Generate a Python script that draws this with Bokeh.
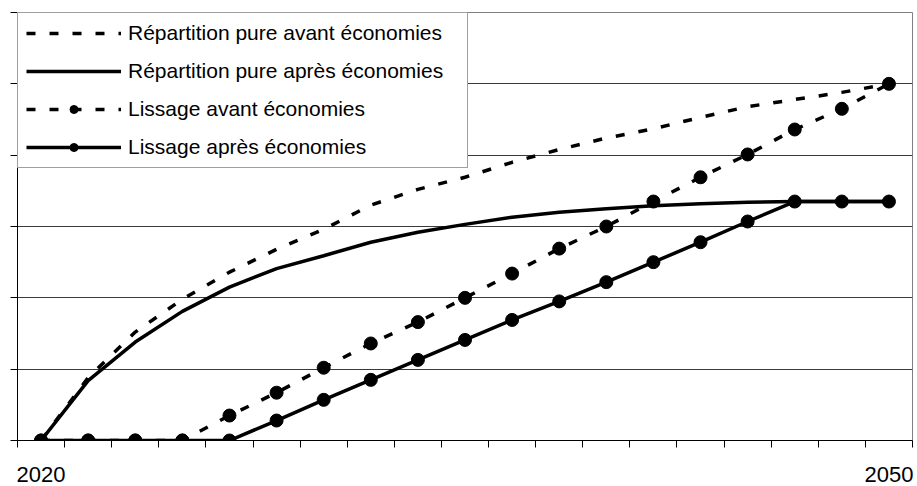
from bokeh.plotting import figure
from bokeh.models import Range1d, FixedTicker, Legend, LegendItem
from bokeh.embed import file_html
from bokeh.resources import INLINE

# Periods along the horizontal axis (19 steps from 2020 to 2050)
periods = list(range(19))
period_labels = ["2020"] + [""] * 17 + ["2050"]

# Series values
repartition_avant = [0.0, 0.88, 1.52, 1.98, 2.36, 2.68, 2.96, 3.30, 3.52, 3.69,
                     3.90, 4.08, 4.24, 4.37, 4.53, 4.68, 4.78, 4.88, 5.0]
repartition_apres = [0.0, 0.84, 1.38, 1.81, 2.15, 2.41, 2.59, 2.78, 2.92, 3.03,
                     3.13, 3.20, 3.25, 3.29, 3.32, 3.34, 3.35, 3.35, 3.35]
lissage_avant = [0.0, 0.0, 0.0, 0.0, 0.35, 0.67, 1.02, 1.36, 1.66, 2.0,
                 2.34, 2.69, 3.0, 3.35, 3.69, 4.01, 4.36, 4.65, 5.0]
lissage_apres = [0.0, 0.0, 0.0, 0.0, 0.0, 0.28, 0.57, 0.85, 1.13, 1.41,
                 1.69, 1.95, 2.22, 2.50, 2.78, 3.07, 3.35, 3.35, 3.35]

series_names = [
    "Répartition pure avant économies",
    "Répartition pure après économies",
    "Lissage avant économies",
    "Lissage après économies",
]

# Vertical levels marked on the left axis (no labels)
y_levels = [0, 1, 2, 3, 4, 5, 6]

FONT = "Liberation Sans"
DASH = "9 14"
LW = 3.5

p = figure(
    width=917, height=486,
    output_backend="svg", toolbar_location=None,
    x_range=Range1d(-0.5, 18.5), y_range=Range1d(0, 6),
    min_border_left=17, min_border_right=5,
    min_border_top=12, min_border_bottom=46,
)
p.background_fill_color = "white"
p.border_fill_color = "white"
p.outline_line_color = "#808080"
p.outline_line_width = 1

# Horizontal axis: labels at first and last period, ticks between categories
label_map = {i: t for i, t in zip(periods, period_labels) if t}
p.xaxis.ticker = FixedTicker(ticks=list(label_map.keys()),
                             minor_ticks=[i - 0.5 for i in periods] + [periods[-1] + 0.5])
p.xaxis.major_label_overrides = label_map
p.xaxis.major_tick_out = 0
p.xaxis.major_tick_in = 0
p.xaxis.minor_tick_out = 7
p.xaxis.minor_tick_in = 0
p.xaxis.minor_tick_line_color = "black"
p.xaxis.axis_line_color = "black"
p.xaxis.major_label_standoff = 19
p.xaxis.major_label_text_font = FONT
p.xaxis.major_label_text_font_size = "22px"
p.xaxis.major_label_text_color = "black"

# Vertical axis: tick marks only
p.yaxis.ticker = FixedTicker(ticks=[], minor_ticks=y_levels)
p.yaxis.minor_tick_out = 7
p.yaxis.minor_tick_in = 0
p.yaxis.minor_tick_line_color = "black"
p.yaxis.major_tick_line_color = None
p.yaxis.axis_line_color = "black"

p.xgrid.visible = False
p.ygrid.ticker = FixedTicker(ticks=y_levels[1:-1])
p.ygrid.grid_line_color = "#3a3a3a"
p.ygrid.grid_line_width = 1

# Series
r1 = p.line(periods, repartition_avant, line_color="black", line_width=LW,
            line_dash=DASH)
r2 = p.line(periods, repartition_apres, line_color="black", line_width=LW)
r3l = p.line(periods, lissage_avant, line_color="black", line_width=LW,
             line_dash=DASH)
r3m = p.scatter(periods, lissage_avant, marker="circle", size=13,
                fill_color="black", line_color="black")
r4l = p.line(periods, lissage_apres, line_color="black", line_width=LW)
r4m = p.scatter(periods, lissage_apres, marker="circle", size=13,
                fill_color="black", line_color="black")

legend = Legend(
    items=[
        LegendItem(label=series_names[0], renderers=[r1]),
        LegendItem(label=series_names[1], renderers=[r2]),
        LegendItem(label=series_names[2], renderers=[r3l, r3m]),
        LegendItem(label=series_names[3], renderers=[r4l, r4m]),
    ],
    location="top_left",
    margin=0,
    padding=8,
    spacing=14,
    glyph_width=95,
    glyph_height=20,
    label_height=20,
    label_width=331,
    label_standoff=7,
    label_text_font=FONT,
    label_text_font_size="21px",
    label_text_color="black",
    border_line_color="#404040",
    border_line_width=1,
    background_fill_color="white",
    background_fill_alpha=1.0,
)
p.add_layout(legend)

open("out.html", "w").write(file_html(p, INLINE))
